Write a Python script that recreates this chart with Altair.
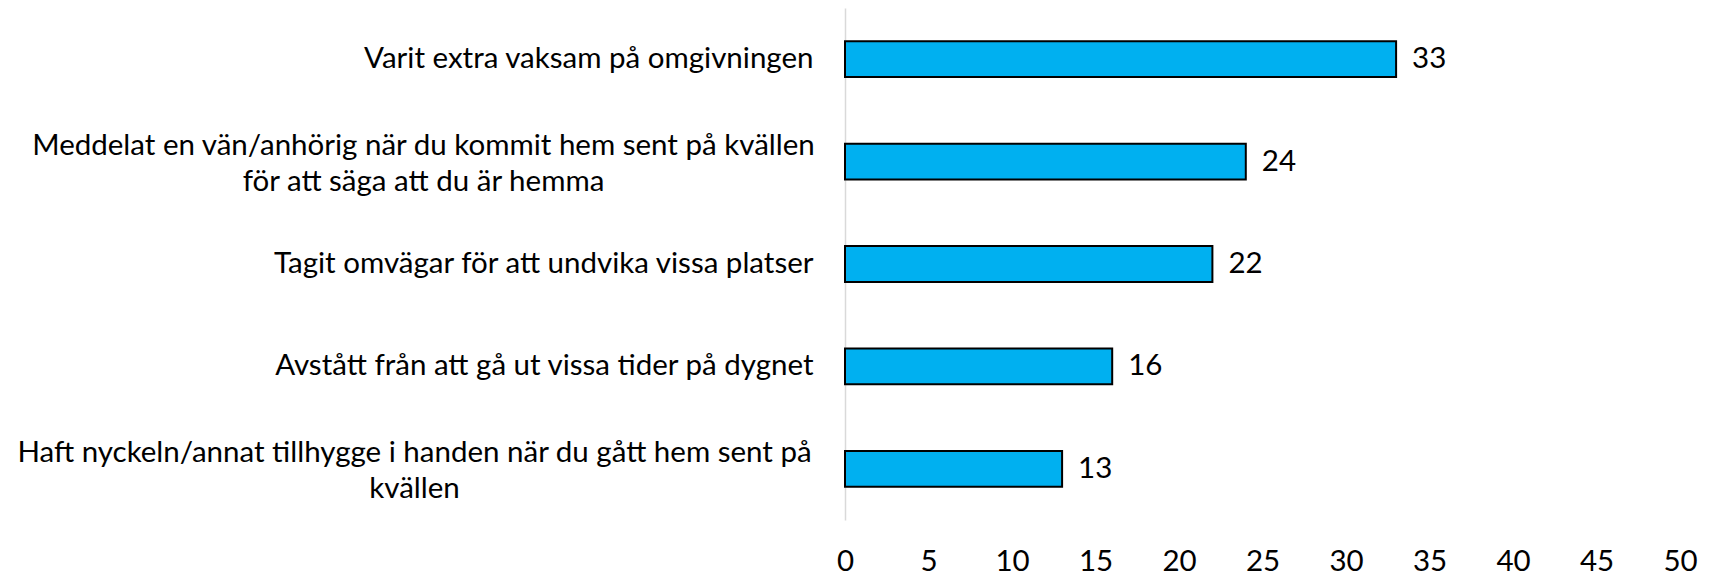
import altair as alt
import pandas as pd

categories = [
    "Varit extra vaksam på omgivningen",
    "Meddelat en vän/anhörig när du kommit hem sent på kvällen\nför att säga att du är hemma",
    "Tagit omvägar för att undvika vissa platser",
    "Avstått från att gå ut vissa tider på dygnet",
    "Haft nyckeln/annat tillhygge i handen när du gått hem sent på\nkvällen",
]
values = [33, 24, 22, 16, 13]
x_ticks = [0, 5, 10, 15, 20, 25, 30, 35, 40, 45, 50]

df = pd.DataFrame({"cat": categories, "val": values})

FONT = "Lato"
FS = 29.5

multi_test = "indexof(datum.value, '\\n') >= 0"

y_enc = alt.Y(
    "cat:N",
    sort=None,
    scale=alt.Scale(paddingInner=0.65, paddingOuter=0.325),
    axis=alt.Axis(
        title=None,
        ticks=False,
        domainColor="#D9D9D9",
        domainWidth=1.5,
        labelFont=FONT,
        labelFontSize=FS,
        labelColor="#000000",
        labelLimit=0,
        labelLineHeight=36,
        labelExpr="split(datum.label, '\\n')",
        labelAlign={"condition": {"test": multi_test, "value": "center"}, "value": "right"},
        labelOffset={"condition": {"test": multi_test, "value": -16}, "value": 0},
        labelPadding={
            "condition": [
                {"test": "indexof(datum.value, 'Meddelat') == 0", "value": 422},
                {"test": "indexof(datum.value, 'Haft') == 0", "value": 431},
            ],
            "value": 32,
        },
        minExtent=837,
        maxExtent=837,
    ),
)

x_enc = alt.X(
    "val:Q",
    scale=alt.Scale(domain=[0, 50], nice=False),
    axis=alt.Axis(
        title=None,
        values=x_ticks,
        grid=False,
        domain=False,
        ticks=False,
        labelFont=FONT,
        labelFontSize=FS,
        labelColor="#000000",
        labelPadding=27,
        labelFlush=False,
    ),
)

base = alt.Chart(df).encode(y=y_enc, x=x_enc)

bars = base.mark_bar(color="#00B0F0", stroke="#000000", strokeWidth=2)
labels = base.mark_text(
    align="left", baseline="middle", dx=16, font=FONT, fontSize=FS, color="#000000"
).encode(text="val:Q")

chart = (
    (bars + labels)
    .properties(
        width=835,
        height=512,
        background="#FFFFFF",
        padding={"left": 0, "top": 0, "right": 0, "bottom": 0},
    )
    .configure_view(stroke=None, strokeWidth=0)
)

chart.save("out.html", embed_options={"renderer": "svg", "actions": False})
